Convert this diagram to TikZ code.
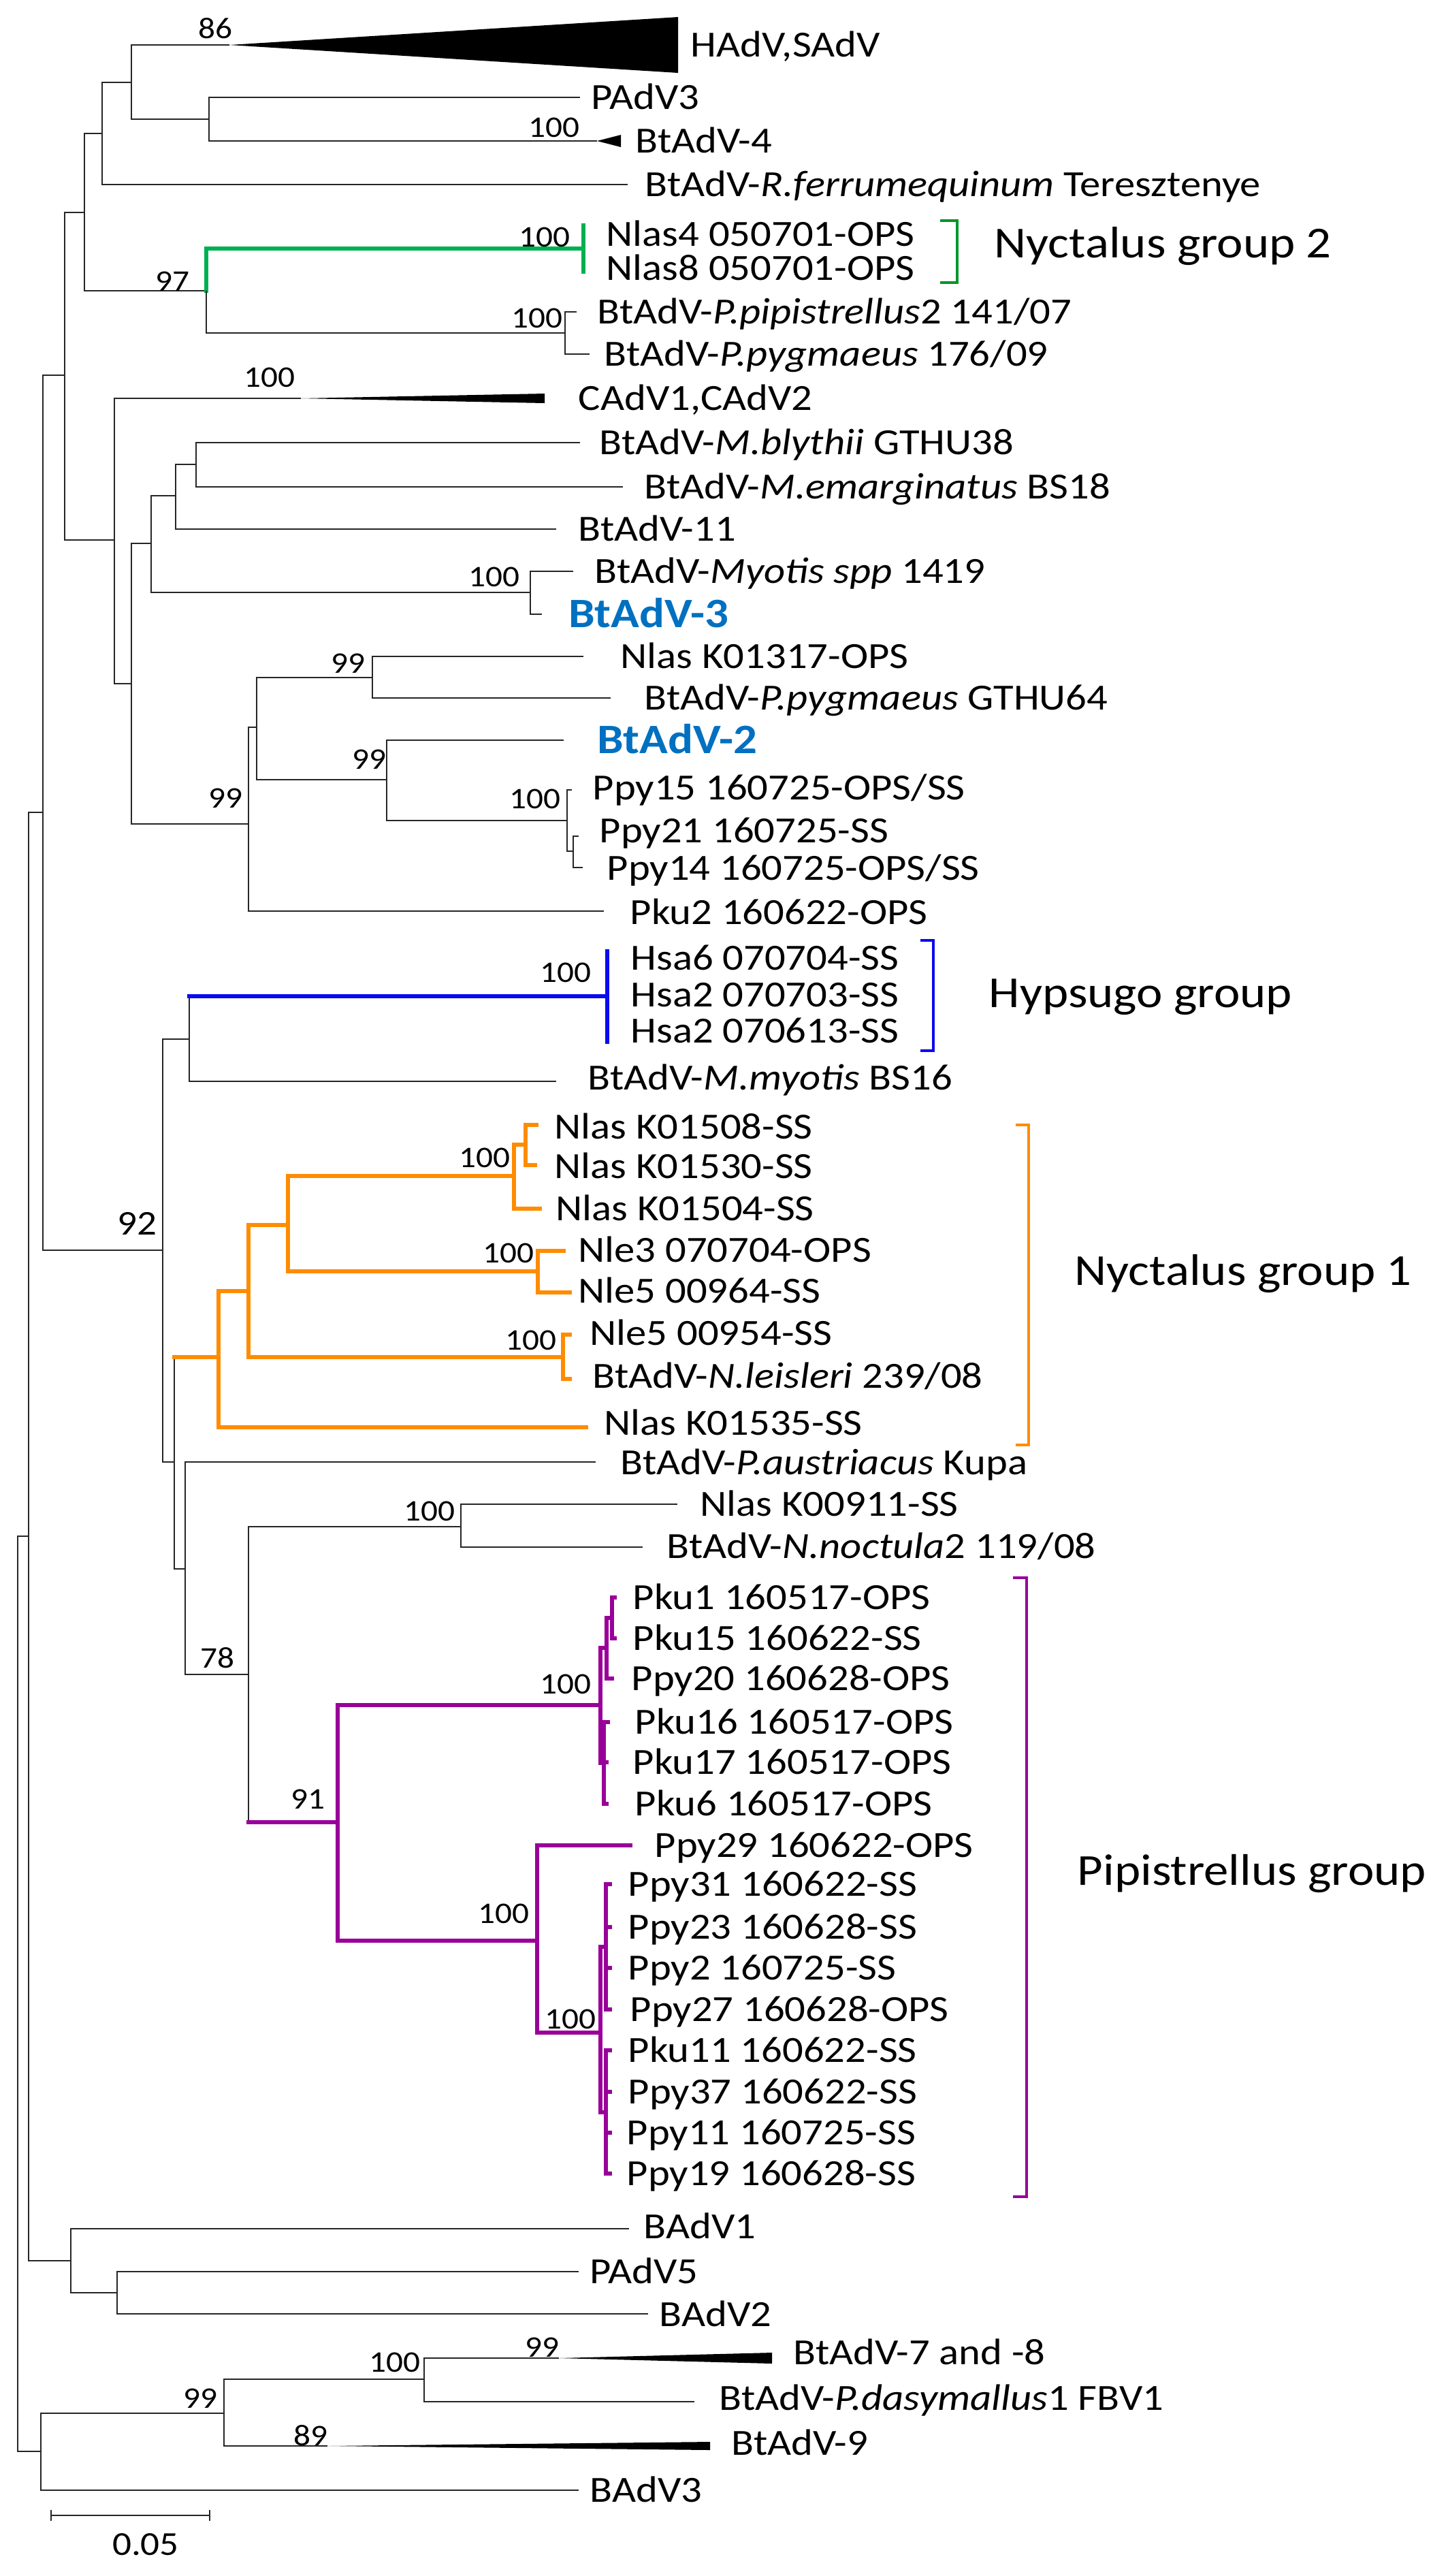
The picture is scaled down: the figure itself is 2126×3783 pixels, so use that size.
\documentclass[tikz,border=0pt]{standalone}
\usepackage{fontspec}
\setmainfont{Carlito}[FakeStretch=1.12]
\definecolor{cladegreen}{RGB}{0,176,80}
\definecolor{bracketgreen}{RGB}{0,150,40}
\definecolor{cladeblue}{RGB}{10,10,240}
\definecolor{cladeorange}{RGB}{255,140,0}
\definecolor{cladepurple}{RGB}{153,0,153}
\definecolor{typeblue}{RGB}{0,112,192}
\tikzset{
  branch/.style={line width=0.6pt, draw=black!85},
  clade/.style={line width=1.5pt, line cap=rect},
  clade-green/.style={clade, draw=cladegreen},
  clade-blue/.style={clade, draw=cladeblue},
  clade-orange/.style={clade, draw=cladeorange},
  clade-purple/.style={clade, draw=cladepurple},
  group-bracket/.style={line width=1.3pt},
  leaf/.style={anchor=base west, inner sep=0pt, yshift=-0.175cm, font=\fontsize{15.4}{18}\selectfont},
  leaf-type/.style={leaf, yshift=-0.02cm, text=typeblue, font=\fontsize{17.5}{20}\selectfont\bfseries},
  boot/.style={inner sep=0pt, font=\fontsize{12.5}{14}\selectfont},
  group-label/.style={anchor=base west, inner sep=0pt, yshift=-0.21cm, font=\fontsize{18.5}{22}\selectfont}
}

\begin{document}
\begin{tikzpicture}[x=0.01cm, y=-0.01cm]
  \useasboundingbox (0,0) rectangle (2126,3783);

  % inner nodes
  \coordinate (root) at (26,2928);
  \coordinate (core) at (42,2256);
  \coordinate (outb) at (60,3600);
  \coordinate (upper) at (63,1193);
  \coordinate (topA) at (95,551);
  \coordinate (hypnyc) at (239,1836);
  \coordinate (hadvgrp) at (124,312);
  \coordinate (cadvgrp) at (168,793);
  \coordinate (hrf) at (150,196);
  \coordinate (hp) at (193,121);
  \coordinate (padv) at (307,175);
  \coordinate (nyc2) at (303,427);
  \coordinate (pip2) at (830,489);
  \coordinate (myogrp) at (193,1004);
  \coordinate (mgrp) at (222,798);
  \coordinate (mgrp2) at (258,728);
  \coordinate (mgrp3) at (288,682);
  \coordinate (myo) at (779,870);
  \coordinate (pgrp) at (365,1210);
  \coordinate (pgrp2) at (377,1068);
  \coordinate (pgrp3) at (547,995);
  \coordinate (bt2grp) at (568,1145);
  \coordinate (ppyA) at (833,1205);
  \coordinate (ppyB) at (842,1250);
  \coordinate (hyp) at (278,1526);
  \coordinate (lower) at (256,2147);
  \coordinate (nyc1) at (321,1993);
  \coordinate (nyc1a) at (365,1896);
  \coordinate (nyc1b) at (423,1799);
  \coordinate (nyc1c) at (755,1727);
  \coordinate (nyc1d) at (772,1681);
  \coordinate (nyc1e) at (790,1867);
  \coordinate (nyc1f) at (827,1993);
  \coordinate (pausgrp) at (272,2304);
  \coordinate (noctgrp) at (365,2459);
  \coordinate (noct) at (677,2242);
  \coordinate (pip) at (496,2676);
  \coordinate (pipA) at (882,2504);
  \coordinate (pipA1) at (891,2420);
  \coordinate (pipA11) at (899,2376);
  \coordinate (pipA2) at (887,2589);
  \coordinate (pipB) at (789,2850);
  \coordinate (pipC) at (882,2985);
  \coordinate (pipC1) at (890,2859);
  \coordinate (pipC2) at (890,3102);
  \coordinate (bov) at (104,3320);
  \coordinate (bov2) at (172,3367);
  \coordinate (batb) at (329,3544);
  \coordinate (batb2) at (623,3494);

  % tips
  \coordinate (w-hadv) at (337,66);
  \coordinate (t-padv3) at (852,143);
  \coordinate (w-bt4) at (877,207);
  \coordinate (t-rfer) at (922,271);
  \coordinate (t-nlas) at (857,365);
  \coordinate (t-ppip) at (847,458);
  \coordinate (t-ppyg) at (866,520);
  \coordinate (w-cadv) at (442,585);
  \coordinate (t-mbly) at (852,650);
  \coordinate (t-mema) at (915,715);
  \coordinate (t-bt11) at (817,777);
  \coordinate (t-myot) at (842,839);
  \coordinate (t-bt3) at (796,902);
  \coordinate (t-k01317) at (857,964);
  \coordinate (t-gthu64) at (897,1025);
  \coordinate (t-bt2) at (828,1087);
  \coordinate (t-ppy15) at (840,1160);
  \coordinate (t-ppy21) at (850,1228);
  \coordinate (t-ppy14) at (856,1274);
  \coordinate (t-pku2) at (887,1338);
  \coordinate (t-hsa) at (892,1463);
  \coordinate (t-mmyo) at (817,1588);
  \coordinate (t-k01508) at (788,1652);
  \coordinate (t-k01530) at (786,1711);
  \coordinate (t-k01504) at (793,1775);
  \coordinate (t-nle3) at (828,1837);
  \coordinate (t-nle5a) at (837,1898);
  \coordinate (t-nle5b) at (837,1960);
  \coordinate (t-nleis) at (837,2025);
  \coordinate (t-k01535) at (861,2096);
  \coordinate (t-paus) at (875,2147);
  \coordinate (t-k00911) at (995,2209);
  \coordinate (t-nnoc) at (944,2272);
  \coordinate (t-pku1) at (903,2346);
  \coordinate (t-pku15) at (903,2406);
  \coordinate (t-ppy20) at (899,2465);
  \coordinate (t-pku16) at (893,2529);
  \coordinate (t-pku17) at (891,2588);
  \coordinate (t-pku6) at (891,2649);
  \coordinate (t-ppy29) at (926,2710);
  \coordinate (t-ppy31) at (896,2767);
  \coordinate (t-ppy23) at (896,2830);
  \coordinate (t-ppy2) at (896,2890);
  \coordinate (t-ppy27) at (896,2951);
  \coordinate (t-pku11) at (896,3011);
  \coordinate (t-ppy37) at (896,3072);
  \coordinate (t-ppy11) at (896,3132);
  \coordinate (t-ppy19) at (896,3192);
  \coordinate (t-badv1) at (924,3273);
  \coordinate (t-padv5) at (850,3336);
  \coordinate (t-badv2) at (952,3398);
  \coordinate (w-bt78) at (821,3463);
  \coordinate (t-pdasy) at (1020,3527);
  \coordinate (w-bt9) at (481,3592);
  \coordinate (t-badv3) at (850,3657);

  % backbone and upper part
  \draw[branch] (root) |- (core);
  \draw[branch] (root) |- (outb);
  \draw[branch] (core) |- (upper);
  \draw[branch] (core) |- (bov);
  \draw[branch] (upper) |- (topA);
  \draw[branch] (upper) |- (hypnyc);
  \draw[branch] (topA) |- (hadvgrp);
  \draw[branch] (topA) |- (cadvgrp);
  \draw[branch] (hadvgrp) |- (hrf);
  \draw[branch] (hadvgrp) |- (nyc2);
  \draw[branch] (hrf) |- (hp);
  \draw[branch] (hrf) |- (t-rfer);
  \draw[branch] (hp) |- (w-hadv);
  \fill (w-hadv) -- (996,25) -- (996,107) -- cycle;
  \draw[branch] (hp) |- (padv);
  \draw[branch] (padv) |- (t-padv3);
  \draw[branch] (padv) |- (w-bt4);
  \fill (w-bt4) -- (912,198) -- (912,216) -- cycle;
  \draw[clade-green] (nyc2) |- (t-nlas);
  \draw[clade-green] (857,331) -- (857,399);
  \draw[branch] (nyc2) |- (pip2);
  \draw[branch] (pip2) |- (t-ppip);
  \draw[branch] (pip2) |- (t-ppyg);
  \draw[branch] (cadvgrp) |- (w-cadv);
  \fill (w-cadv) -- (800,578) -- (800,592) -- cycle;
  \draw[branch] (cadvgrp) |- (myogrp);
  \draw[branch] (myogrp) |- (mgrp);
  \draw[branch] (myogrp) |- (pgrp);
  \draw[branch] (mgrp) |- (mgrp2);
  \draw[branch] (mgrp) |- (myo);
  \draw[branch] (mgrp2) |- (mgrp3);
  \draw[branch] (mgrp2) |- (t-bt11);
  \draw[branch] (mgrp3) |- (t-mbly);
  \draw[branch] (mgrp3) |- (t-mema);
  \draw[branch] (myo) |- (t-myot);
  \draw[branch] (myo) |- (t-bt3);
  \draw[branch] (pgrp) |- (pgrp2);
  \draw[branch] (pgrp) |- (t-pku2);
  \draw[branch] (pgrp2) |- (pgrp3);
  \draw[branch] (pgrp2) |- (bt2grp);
  \draw[branch] (pgrp3) |- (t-k01317);
  \draw[branch] (pgrp3) |- (t-gthu64);
  \draw[branch] (bt2grp) |- (t-bt2);
  \draw[branch] (bt2grp) |- (ppyA);
  \draw[branch] (ppyA) |- (t-ppy15);
  \draw[branch] (ppyA) |- (ppyB);
  \draw[branch] (ppyB) |- (t-ppy21);
  \draw[branch] (ppyB) |- (t-ppy14);

  % Hypsugo and Nyctalus 1
  \draw[branch] (hypnyc) |- (hyp);
  \draw[branch] (hypnyc) |- (lower);
  \draw[branch] (hyp) -- (hyp |- t-hsa);
  \draw[clade-blue] (hyp |- t-hsa) -- (t-hsa);
  \draw[clade-blue] (892,1397) -- (892,1530);
  \draw[branch] (hyp) |- (t-mmyo);
  \draw[branch] (lower) -- (lower |- nyc1);
  \draw[clade-orange] (lower |- nyc1) -- (nyc1);
  \draw[branch] (lower) |- (pausgrp);
  \draw[clade-orange] (nyc1) |- (nyc1a);
  \draw[clade-orange] (nyc1) |- (t-k01535);
  \draw[clade-orange] (nyc1a) |- (nyc1b);
  \draw[clade-orange] (nyc1a) |- (nyc1f);
  \draw[clade-orange] (nyc1b) |- (nyc1c);
  \draw[clade-orange] (nyc1b) |- (nyc1e);
  \draw[clade-orange] (nyc1c) |- (nyc1d);
  \draw[clade-orange] (nyc1c) |- (t-k01504);
  \draw[clade-orange] (nyc1d) |- (t-k01508);
  \draw[clade-orange] (nyc1d) |- (t-k01530);
  \draw[clade-orange] (nyc1e) |- (t-nle3);
  \draw[clade-orange] (nyc1e) |- (t-nle5a);
  \draw[clade-orange] (nyc1f) |- (t-nle5b);
  \draw[clade-orange] (nyc1f) |- (t-nleis);

  % Pipistrellus part
  \draw[branch] (pausgrp) |- (t-paus);
  \draw[branch] (pausgrp) |- (noctgrp);
  \draw[branch] (noctgrp) |- (noct);
  \draw[branch] (noct) |- (t-k00911);
  \draw[branch] (noct) |- (t-nnoc);
  \draw[branch] (noctgrp) -- (noctgrp |- pip);
  \draw[clade-purple] (noctgrp |- pip) -- (pip);
  \draw[clade-purple] (pip) |- (pipA);
  \draw[clade-purple] (pip) |- (pipB);
  \draw[clade-purple] (pipA) |- (pipA1);
  \draw[clade-purple] (pipA) |- (pipA2);
  \draw[clade-purple] (pipA1) |- (pipA11);
  \draw[clade-purple] (pipA1) |- (t-ppy20);
  \draw[clade-purple] (pipA11) |- (t-pku1);
  \draw[clade-purple] (pipA11) |- (t-pku15);
  \foreach \tp in {t-pku16,t-pku17,t-pku6}
    \draw[clade-purple] (pipA2) |- (\tp);
  \draw[clade-purple] (pipB) |- (t-ppy29);
  \draw[clade-purple] (pipB) |- (pipC);
  \draw[clade-purple] (pipC) |- (pipC1);
  \draw[clade-purple] (pipC) |- (pipC2);
  \foreach \tp in {t-ppy31,t-ppy23,t-ppy2,t-ppy27}
    \draw[clade-purple] (pipC1) |- (\tp);
  \foreach \tp in {t-pku11,t-ppy37,t-ppy11,t-ppy19}
    \draw[clade-purple] (pipC2) |- (\tp);

  % outgroups
  \draw[branch] (bov) |- (t-badv1);
  \draw[branch] (bov) |- (bov2);
  \draw[branch] (bov2) |- (t-padv5);
  \draw[branch] (bov2) |- (t-badv2);
  \draw[branch] (outb) |- (batb);
  \draw[branch] (outb) |- (t-badv3);
  \draw[branch] (batb) |- (batb2);
  \draw[branch] (batb) |- (w-bt9);
  \fill (w-bt9) -- (1043,3586) -- (1043,3598) -- cycle;
  \draw[branch] (batb2) |- (w-bt78);
  \fill (w-bt78) -- (1134,3455) -- (1134,3471) -- cycle;
  \draw[branch] (batb2) |- (t-pdasy);

  % leaf labels
  \node[leaf] (hadv) at (1014,66) {HAdV,SAdV};
  \node[leaf] (padv3) at (868,143) {PAdV3};
  \node[leaf] (bt4) at (933,207) {BtAdV-4};
  \node[leaf] (rfer) at (947,271) {BtAdV-\textit{R.ferrumequinum} Teresztenye};
  \node[leaf] (nlas4) at (890,344) {Nlas4 050701-OPS};
  \node[leaf] (nlas8) at (890,394) {Nlas8 050701-OPS};
  \node[leaf] (ppip) at (877,458) {BtAdV-\textit{P.pipistrellus}2 141/07};
  \node[leaf] (ppyg) at (887,520) {BtAdV-\textit{P.pygmaeus} 176/09};
  \node[leaf] (cadv) at (849,585) {CAdV1,CAdV2};
  \node[leaf] (mbly) at (880,650) {BtAdV-\textit{M.blythii} GTHU38};
  \node[leaf] (mema) at (946,715) {BtAdV-\textit{M.emarginatus} BS18};
  \node[leaf] (bt11) at (849,777) {BtAdV-11};
  \node[leaf] (myot) at (873,839) {BtAdV-\textit{Myotis spp} 1419};
  \node[leaf-type] (bt3) at (835,902) {BtAdV-3};
  \node[leaf] (k01317) at (911,964) {Nlas K01317-OPS};
  \node[leaf] (gthu64) at (946,1025) {BtAdV-\textit{P.pygmaeus} GTHU64};
  \node[leaf-type] (bt2) at (877,1087) {BtAdV-2};
  \node[leaf] (ppy15) at (870,1157) {Ppy15 160725-OPS/SS};
  \node[leaf] (ppy21) at (880,1220) {Ppy21 160725-SS};
  \node[leaf] (ppy14) at (891,1275) {Ppy14 160725-OPS/SS};
  \node[leaf] (pku2) at (925,1340) {Pku2 160622-OPS};
  \node[leaf] (hsa6) at (926,1407) {Hsa6 070704-SS};
  \node[leaf] (hsa2a) at (926,1461) {Hsa2 070703-SS};
  \node[leaf] (hsa2b) at (926,1514) {Hsa2 070613-SS};
  \node[leaf] (mmyo) at (863,1583) {BtAdV-\textit{M.myotis} BS16};
  \node[leaf] (k01508) at (814,1655) {Nlas K01508-SS};
  \node[leaf] (k01530) at (814,1713) {Nlas K01530-SS};
  \node[leaf] (k01504) at (816,1775) {Nlas K01504-SS};
  \node[leaf] (nle3) at (849,1836) {Nle3 070704-OPS};
  \node[leaf] (nle5a) at (849,1896) {Nle5 00964-SS};
  \node[leaf] (nle5b) at (866,1958) {Nle5 00954-SS};
  \node[leaf] (nleis) at (870,2021) {BtAdV-\textit{N.leisleri} 239/08};
  \node[leaf] (k01535) at (887,2090) {Nlas K01535-SS};
  \node[leaf] (paus) at (911,2148) {BtAdV-\textit{P.austriacus} Kupa};
  \node[leaf] (k00911) at (1028,2209) {Nlas K00911-SS};
  \node[leaf] (nnoc) at (979,2271) {BtAdV-\textit{N.noctula}2 119/08};
  \node[leaf] (pku1) at (929,2346) {Pku1 160517-OPS};
  \node[leaf] (pku15) at (929,2406) {Pku15 160622-SS};
  \node[leaf] (ppy20) at (927,2465) {Ppy20 160628-OPS};
  \node[leaf] (pku16) at (932,2529) {Pku16 160517-OPS};
  \node[leaf] (pku17) at (929,2588) {Pku17 160517-OPS};
  \node[leaf] (pku6) at (932,2649) {Pku6 160517-OPS};
  \node[leaf] (ppy29) at (961,2710) {Ppy29 160622-OPS};
  \node[leaf] (ppy31) at (922,2767) {Ppy31 160622-SS};
  \node[leaf] (ppy23) at (922,2830) {Ppy23 160628-SS};
  \node[leaf] (ppy2) at (922,2890) {Ppy2 160725-SS};
  \node[leaf] (ppy27) at (925,2951) {Ppy27 160628-OPS};
  \node[leaf] (pku11) at (922,3011) {Pku11 160622-SS};
  \node[leaf] (ppy37) at (922,3072) {Ppy37 160622-SS};
  \node[leaf] (ppy11) at (920,3132) {Ppy11 160725-SS};
  \node[leaf] (ppy19) at (920,3192) {Ppy19 160628-SS};
  \node[leaf] (badv1) at (945,3270) {BAdV1};
  \node[leaf] (padv5) at (866,3336) {PAdV5};
  \node[leaf] (badv2) at (968,3399) {BAdV2};
  \node[leaf] (bt78) at (1165,3455) {BtAdV-7 and -8};
  \node[leaf] (pdasy) at (1056,3522) {BtAdV-\textit{P.dasymallus}1 FBV1};
  \node[leaf] (bt9) at (1074,3588) {BtAdV-9};
  \node[leaf] (badv3) at (866,3657) {BAdV3};

  % bootstrap values
  \foreach \bx/\by/\bv [count=\bi] in {316/42/86, 814/187/100, 800/348/100, 253/413/97,
      789/467/100, 396/554/100, 726/847/100, 511/974/99, 542/1115/99, 786/1173/100,
      331/1172/99, 831/1428/100, 712/1700/100, 747/1840/100, 780/1968/100,
      631/2219/100, 319/2435/78, 452/2642/91, 831/2473/100, 740/2810/100,
      838/2965/100, 294/3522/99, 456/3577/89, 580/3469/100, 796/3447/99}
    \node[boot] (bs\bi) at (\bx,\by) {\bv};
  \node[boot, font=\fontsize{14.5}{16}\selectfont] (bs92) at (201,1797) {92};

  % groups
  \draw[group-bracket, draw=bracketgreen] (1381,324) -| (1406,415) -- (1381,415);
  \draw[group-bracket, draw=cladeblue] (1352,1381) -| (1371,1543) -- (1352,1543);
  \draw[group-bracket, draw=cladeorange] (1492,1652) -| (1511,2122) -- (1492,2122);
  \draw[group-bracket, draw=cladepurple] (1488,2317) -| (1508,3226) -- (1488,3226);
  \node[group-label] (nyc2-lab) at (1460,357) {Nyctalus group 2};
  \node[group-label] (hyp-lab) at (1452,1458) {Hypsugo group};
  \node[group-label] (nyc1-lab) at (1578,1866) {Nyctalus group 1};
  \node[group-label] (pip-lab) at (1582,2747) {Pipistrellus group};

  % scale bar
  \coordinate (sb-l) at (75,3694);
  \coordinate (sb-r) at (308,3694);
  \draw[branch] (sb-l) -- (sb-r);
  \draw[branch] ([yshift=0.08cm]sb-l) -- ([yshift=-0.08cm]sb-l);
  \draw[branch] ([yshift=0.08cm]sb-r) -- ([yshift=-0.08cm]sb-r);
  \node[boot, font=\fontsize{14}{16}\selectfont] (sb-lab) at (214,3737) {0.05};
\end{tikzpicture}
\end{document}
